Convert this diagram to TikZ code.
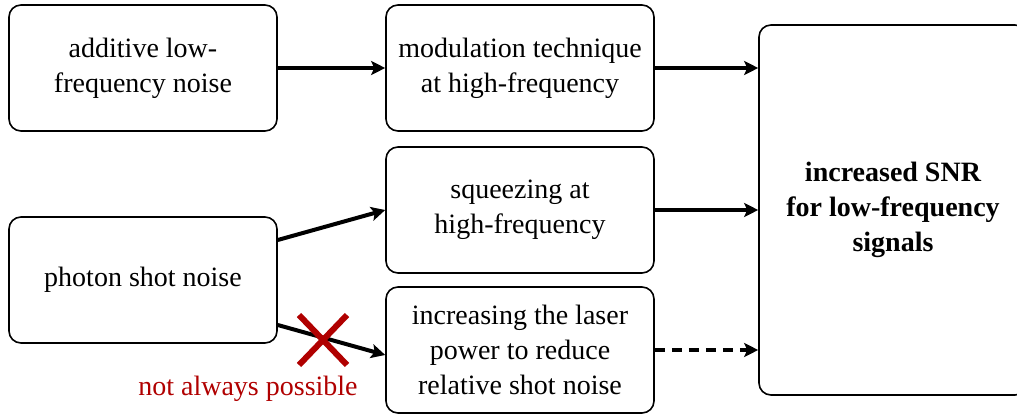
\documentclass[tikz,border=0pt]{standalone}
\usepackage{fontspec}
\setmainfont{Liberation Serif}
\usepackage{tikz}
\usetikzlibrary{arrows.meta,positioning,calc}
\definecolor{crossred}{HTML}{B00000}
\tikzset{
  noisebox/.style={draw=black,fill=white,line width=0.8pt,rounded corners=6pt,
                   minimum width=134pt,minimum height=63pt,
                   align=center,inner sep=3pt,font=\fontsize{14}{17.5}\selectfont},
  goalbox/.style={noisebox,minimum height=185pt,font=\fontsize{14}{17.5}\selectfont\bfseries},
  flowarr/.style={-{Stealth[length=7pt,width=7pt,inset=1.5pt]},line width=2pt},
  maybearr/.style={flowarr,dash pattern=on 5pt off 3.5pt},
  nogo/.style={draw=crossred,line width=3pt}
}
\begin{document}
\begin{tikzpicture}[x=0.5pt,y=-0.5pt]
  \useasboundingbox (0,0) rectangle (1017,417);
  % sources on the left
  \node[noisebox] (addnoise) at (143,68) {additive low-\\frequency noise};
  \node[noisebox] (shotnoise) at (143,280) {photon shot noise};
  % countermeasures in the middle
  \node[noisebox] (modul) at (520,68) {modulation technique\\at high-frequency};
  \node[noisebox] (squeeze) at (520,210) {squeezing at\\high-frequency};
  \node[noisebox] (power) at (520,350) {increasing the laser\\power to reduce\\relative shot noise};
  % result
  \node[goalbox] (snr) at (893,210) {increased SNR\\for low-frequency\\signals};
  \draw[flowarr] (addnoise) -- (modul);
  \draw[flowarr] (modul.east) -- (modul.east -| snr.west);
  \draw[flowarr] (squeeze) -- (snr.west |- squeeze);
  \draw[maybearr] (power.east) -- (power.east -| snr.west);
  \draw[flowarr] (shotnoise.east |- 0,240) -- (squeeze.west |- 0,210);
  \draw[flowarr] (shotnoise.east |- 0,325) -- (power.west |- 0,355);
  % crossed-out path
  \coordinate (cross) at (323,340);
  \draw[nogo] ($(cross)+(-24,-25)$) -- ($(cross)+(24,25)$);
  \draw[nogo] ($(cross)+(-24,25)$) -- ($(cross)+(24,-25)$);
  \node[text=crossred,font=\fontsize{14}{15}\selectfont] (nogotext) at (248,389) {not always possible};
\end{tikzpicture}
\end{document}
